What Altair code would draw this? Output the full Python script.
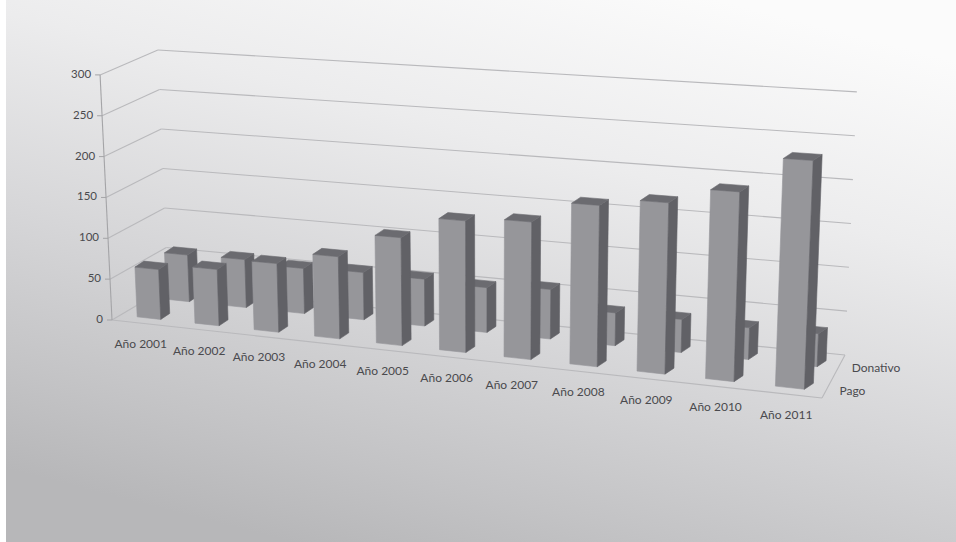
import altair as alt
import pandas as pd

# ---------------- data ----------------
years = ["Año 2001", "Año 2002", "Año 2003", "Año 2004", "Año 2005", "Año 2006",
         "Año 2007", "Año 2008", "Año 2009", "Año 2010", "Año 2011"]
pago = [61, 68, 82, 97, 126, 152, 157, 182, 191, 209, 249]
donativo = [58, 59, 55, 57, 56, 53, 58, 38, 38, 36, 37]
series_names = ["Pago", "Donativo"]
ticks = [0, 50, 100, 150, 200, 250, 300]

# ---------------- 3-D view (projection) settings ----------------
N = len(years)
W, H = 956, 542
FL, FR, BL, BR = (112, 320), (822, 398), (168, 287), (845, 355)   # floor corners on screen
SFL, SFR, SBL, SBR = 0.817, 0.93, 0.79, 0.877                    # px per unit at the corners
WARP = 0.13
LEAN, XC = 1.08e-4, 480
DEPTH = {"Pago": 0.15, "Donativo": 0.68}
BAR_W = 0.41
EXT_X, EXT_Y = 9, 6

FRONT_C, SIDE_C, TOP_C = "#96969a", "#616166", "#6b6b70"
GRID_C, AXIS_C, TEXT_C = "#b9b9bc", "#a4a4a7", "#4a4a4e"
FONT = "Lato"

XS = alt.Scale(domain=[0, W], range=[0, W], nice=False, zero=False)
YS = alt.Scale(domain=[0, H], range=[0, H], nice=False, zero=False)


def project(ch):
    return (ch.transform_calculate(ff=f"(datum.uu/{N})*(1+{WARP}*datum.uu/{N})/{1 + WARP}")
              .transform_calculate(xf=f"lerp([lerp([{FL[0]},{FR[0]}],datum.ff),lerp([{BL[0]},{BR[0]}],datum.ff)],datum.dd)")
              .transform_calculate(yf=f"lerp([lerp([{FL[1]},{FR[1]}],datum.ff),lerp([{BL[1]},{BR[1]}],datum.ff)],datum.dd)")
              .transform_calculate(sc=f"lerp([lerp([{SFL},{SFR}],datum.ff),lerp([{SBL},{SBR}],datum.ff)],datum.dd)")
              .transform_calculate(px=f"datum.xf + datum.hh*{LEAN}*(datum.xf-{XC}) + datum.bk*{EXT_X}")
              .transform_calculate(py=f"datum.yf - datum.hh*datum.sc - datum.bk*{EXT_Y}"))


# ---------------- tables built from the arrays ----------------
bar_rows = []
faces = {
    "front": [(0, 0, 0), (1, 0, 0), (1, 1, 0), (0, 1, 0), (0, 0, 0)],
    "side": [(1, 0, 0), (1, 0, 1), (1, 1, 1), (1, 1, 0), (1, 0, 0)],
    "top": [(0, 1, 0), (1, 1, 0), (1, 1, 1), (0, 1, 1), (0, 1, 0)],
}
for s, vals in (("Pago", pago), ("Donativo", donativo)):
    for i, (y, v) in enumerate(zip(years, vals)):
        for face, verts in faces.items():
            for k, (su, st, bk) in enumerate(verts):
                bar_rows.append(dict(series=s, year=y, i=i, value=v, face=face,
                                     k=k, su=su, st=st, bk=bk))
bars = pd.DataFrame(bar_rows)

line_rows = []
for g in ticks:
    line_rows += [dict(seg=f"back{g}", kind="grid", k=0, uu=0, dd=1, hh=g, bk=0),
                  dict(seg=f"back{g}", kind="grid", k=1, uu=N, dd=1, hh=g, bk=0),
                  dict(seg=f"left{g}", kind="grid", k=0, uu=0, dd=0, hh=g, bk=0),
                  dict(seg=f"left{g}", kind="grid", k=1, uu=0, dd=1, hh=g, bk=0)]
line_rows += [dict(seg="front", kind="grid", k=0, uu=0, dd=0, hh=0, bk=0),
              dict(seg="front", kind="grid", k=1, uu=N, dd=0, hh=0, bk=0),
              dict(seg="right", kind="grid", k=0, uu=N, dd=0, hh=0, bk=0),
              dict(seg="right", kind="grid", k=1, uu=N, dd=1, hh=0, bk=0),
              dict(seg="axis", kind="axis", k=0, uu=0, dd=0, hh=0, bk=0),
              dict(seg="axis", kind="axis", k=1, uu=0, dd=0, hh=max(ticks), bk=0)]
lines = pd.DataFrame(line_rows)

tick_df = pd.DataFrame(dict(label=[str(t) for t in ticks], uu=0, dd=0, hh=ticks, bk=0))
year_df = pd.DataFrame(dict(label=years, uu=[i + 0.5 for i in range(N)], dd=0, hh=0, bk=0))
ser_df = pd.DataFrame(dict(label=series_names, uu=N, dd=[DEPTH[s] for s in series_names], hh=0, bk=0))

# ---------------- layers ----------------
bg = alt.Chart(alt.Data(values=[{"a": 1}])).mark_rect(
    fill=alt.Gradient(gradient="linear", x1=0.75, y1=0, x2=0.3, y2=1,
                      stops=[alt.GradientStop(color="#fbfbfb", offset=0),
                             alt.GradientStop(color="#ececed", offset=0.3),
                             alt.GradientStop(color="#d6d6d8", offset=0.6),
                             alt.GradientStop(color="#c3c3c5", offset=0.85),
                             alt.GradientStop(color="#b7b7b9", offset=1)])
).encode(x=alt.value(6), x2=alt.value(W), y=alt.value(0), y2=alt.value(H))

enc_xy = dict(x=alt.X("px:Q", scale=XS, axis=None), y=alt.Y("py:Q", scale=YS, axis=None))

grid = project(alt.Chart(lines).transform_filter("datum.kind == 'grid'")).mark_line(
    stroke=GRID_C, strokeWidth=1.1).encode(**enc_xy, detail="seg:N", order="k:Q")
axis = project(alt.Chart(lines).transform_filter("datum.kind == 'axis'")).mark_line(
    stroke=AXIS_C, strokeWidth=1.1).encode(**enc_xy, detail="seg:N", order="k:Q")

tick_marks = project(alt.Chart(tick_df)).transform_calculate(pxl="datum.px - 5").mark_rule(
    stroke=AXIS_C, strokeWidth=1).encode(**enc_xy, x2="pxl:Q")
tick_text = project(alt.Chart(tick_df)).mark_text(
    align="right", baseline="middle", dx=-9, font=FONT, fontSize=11.5, color=TEXT_C
).encode(**enc_xy, text="label:N")
year_text = project(alt.Chart(year_df)).mark_text(
    align="center", baseline="middle", dy=21, font=FONT, fontSize=12, color=TEXT_C
).encode(**enc_xy, text="label:N")
ser_text = project(alt.Chart(ser_df)).mark_text(
    align="left", baseline="middle", dx=14, dy=-1, font=FONT, fontSize=12, color=TEXT_C
).encode(**enc_xy, text="label:N")


def bar_face(s, face, color):
    ch = (alt.Chart(bars)
          .transform_filter(f"datum.series == '{s}' && datum.face == '{face}'")
          .transform_calculate(uu=f"datum.i + 0.5 + (datum.su - 0.5)*{BAR_W}")
          .transform_calculate(dd=f"{DEPTH[s]}")
          .transform_calculate(hh="datum.st * datum.value"))
    return project(ch).mark_line(fill=color, stroke=color, strokeWidth=0.6, strokeJoin="miter").encode(
        **enc_xy, detail="i:O", order="k:Q")


bar_layers = []
for s in ["Donativo", "Pago"]:
    bar_layers += [bar_face(s, "front", FRONT_C), bar_face(s, "side", SIDE_C), bar_face(s, "top", TOP_C)]

chart = alt.layer(bg, grid, axis, tick_marks, tick_text, *bar_layers, year_text, ser_text).properties(
    width=W, height=H, autosize=alt.AutoSizeParams(type="none"), padding=0,
    background="#ffffff"
).configure_view(stroke=None)

chart.save("out.html", embed_options={"renderer": "svg", "actions": False})
